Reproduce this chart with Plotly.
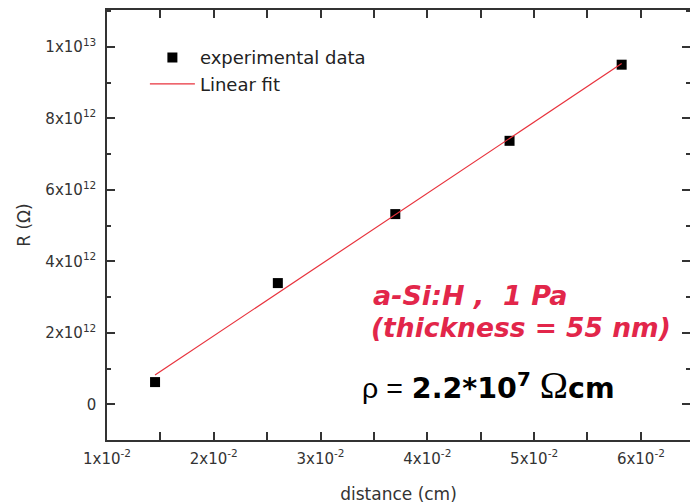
import numpy as np
import plotly.graph_objects as go

# data
distance_cm = [0.0145, 0.0260, 0.0370, 0.0477, 0.0582]
resistance_ohm = [0.62e12, 3.39e12, 5.32e12, 7.37e12, 9.50e12]

x_tickvals = [0.01, 0.02, 0.03, 0.04, 0.05, 0.06]
x_ticktext = ["1x10<sup>-2</sup>", "2x10<sup>-2</sup>", "3x10<sup>-2</sup>",
              "4x10<sup>-2</sup>", "5x10<sup>-2</sup>", "6x10<sup>-2</sup>"]
y_tickvals = [0, 2e12, 4e12, 6e12, 8e12, 1e13]
y_ticktext = ["0", "2x10<sup>12</sup>", "4x10<sup>12</sup>", "6x10<sup>12</sup>",
              "8x10<sup>12</sup>", "1x10<sup>13</sup>"]

slope, intercept = np.polyfit(distance_cm, resistance_ohm, 1)
fit_x = [distance_cm[0], distance_cm[-1]]
fit_y = [slope * v + intercept for v in fit_x]

AX = "#333333"
FONT = "DejaVu Sans"

fig = go.Figure()
fig.add_trace(go.Scatter(
    x=distance_cm, y=resistance_ohm, mode="markers", name="experimental data",
    marker=dict(symbol="square", size=10, color="black"),
))
fig.add_trace(go.Scatter(
    x=fit_x, y=fit_y, mode="lines", name="Linear fit",
    line=dict(color="#e8323c", width=1.2), yaxis="y2",
))

yrange = [-1.0e12, 1.103e13]
fig.update_layout(
    width=690, height=504,
    margin=dict(l=107, r=0, t=10, b=64, autoexpand=False),
    paper_bgcolor="white", plot_bgcolor="white",
    font=dict(family=FONT, color=AX, size=15),
    showlegend=True,
    legend=dict(x=0.065, y=0.932, xanchor="left", yanchor="top",
                bgcolor="rgba(0,0,0,0)", font=dict(size=18, color="#222222"),
                tracegroupgap=0, itemwidth=45),
    xaxis=dict(
        range=[0.01, 0.0646], showgrid=False, zeroline=False, automargin=False,
        showline=True, linecolor=AX, linewidth=1.5, mirror="allticks",
        ticks="inside", ticklen=8, tickwidth=1.5, tickcolor=AX,
        tickvals=x_tickvals, ticktext=x_ticktext,
        tickfont=dict(size=15, color=AX), ticklabelstandoff=4,
        minor=dict(dtick=0.005, tick0=0.005, ticks="inside", ticklen=4,
                   tickwidth=1.5, tickcolor=AX, showgrid=False),
        title=dict(text="distance (cm)", font=dict(size=17, color=AX), standoff=22),
    ),
    yaxis=dict(
        range=yrange, showgrid=False, zeroline=False, automargin=False,
        showline=True, linecolor=AX, linewidth=1.5,
        ticks="inside", ticklen=8, tickwidth=1.5, tickcolor=AX,
        tickvals=y_tickvals, ticktext=y_ticktext,
        tickfont=dict(size=15, color=AX), ticklabelstandoff=6,
        minor=dict(dtick=1e12, tick0=0, ticks="inside", ticklen=4,
                   tickwidth=1.5, tickcolor=AX, showgrid=False),
        title=dict(text="R (Ω)", font=dict(size=17, color=AX), standoff=10),
    ),
    yaxis2=dict(
        range=yrange, overlaying="y", side="right", showgrid=False, zeroline=False,
        showline=False, showticklabels=False, automargin=False,
        ticks="inside", ticklen=8, tickwidth=1.5, tickcolor=AX,
        tickvals=y_tickvals,
        minor=dict(dtick=1e12, tick0=0, ticks="inside", ticklen=4,
                   tickwidth=1.5, tickcolor=AX, showgrid=False),
    ),
)

RED = "#e2264a"
fig.add_annotation(xref="paper", yref="paper", x=(371 - 107) / 583, y=1 - (295 - 10) / 430,
                   xanchor="left", yanchor="middle", showarrow=False,
                   text="<b><i>a-Si:H ,  1 Pa</i></b>",
                   font=dict(family="DejaVu Sans", size=27, color=RED))
fig.add_annotation(xref="paper", yref="paper", x=(369 - 107) / 583, y=1 - (327 - 10) / 430,
                   xanchor="left", yanchor="middle", showarrow=False,
                   text="<b><i>(thickness = 55 nm)</i></b>",
                   font=dict(family="DejaVu Sans", size=26.5, color=RED))
fig.add_annotation(xref="paper", yref="paper", x=(360 - 107) / 583, y=1 - (385 - 10) / 430,
                   xanchor="left", yanchor="middle", showarrow=False,
                   text="<span style='font-family:Liberation Sans'>ρ =</span> <b>2.2*10<sup>7</sup></b> <span style='font-family:Liberation Serif;font-size:38px'>Ω</span><b>cm</b>",
                   font=dict(family="DejaVu Sans", size=28.5, color="black"))

fig.write_html("out.html", config={"displayModeBar": False},
               post_script="document.body.style.margin='0';document.body.style.overflow='hidden';")
